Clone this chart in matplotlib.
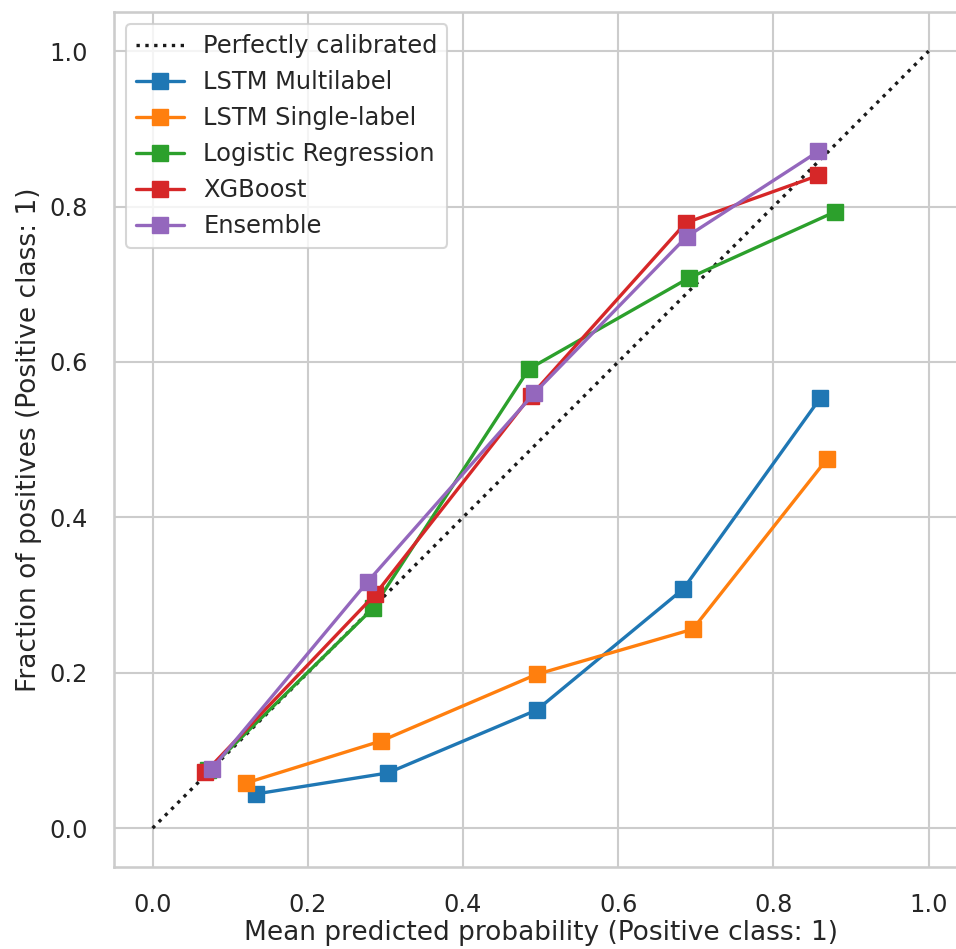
import matplotlib
matplotlib.use("Agg")
import matplotlib.pyplot as plt
import seaborn as sns

sns.set_theme(style="whitegrid", context="talk")
plt.rcParams['font.family'] = ['DejaVu Sans']

models = ["LSTM Multilabel", "LSTM Single-label", "Logistic Regression", "XGBoost", "Ensemble"]
colors = ["#1f77b4", "#ff7f0e", "#2ca02c", "#d62728", "#9467bd"]

mean_pred = [
    [0.133, 0.303, 0.495, 0.684, 0.860],
    [0.120, 0.294, 0.495, 0.696, 0.869],
    [0.072, 0.284, 0.485, 0.691, 0.879],
    [0.068, 0.287, 0.487, 0.687, 0.858],
    [0.076, 0.277, 0.492, 0.688, 0.858],
]
frac_pos = [
    [0.044, 0.071, 0.152, 0.308, 0.553],
    [0.058, 0.112, 0.198, 0.256, 0.475],
    [0.075, 0.283, 0.591, 0.708, 0.793],
    [0.072, 0.301, 0.556, 0.779, 0.840],
    [0.076, 0.317, 0.560, 0.761, 0.871],
]

fig = plt.figure(figsize=(9.56, 9.49), dpi=100)
ax = fig.add_axes([0.119, 0.0864, 0.893, 0.9007])

ax.plot([0, 1], [0, 1], "k:", label="Perfectly calibrated", linewidth=2.4)
for name, c, xs, ys in zip(models, colors, mean_pred, frac_pos):
    ax.plot(xs, ys, "s-", color=c, label=name, linewidth=2.4, markersize=11)

ax.set_xlim(-0.05, 1.05)
ax.set_ylim(-0.05, 1.05)
ax.set_xlabel("Mean predicted probability (Positive class: 1)", fontsize=19)
ax.set_ylabel("Fraction of positives (Positive class: 1)", fontsize=19)
ax.tick_params(labelsize=17.3, pad=10)
ax.xaxis.labelpad = 2
ax.yaxis.labelpad = 5
ax.legend(loc="upper left", fontsize=17.4)

fig.savefig("out.png", dpi=100)
